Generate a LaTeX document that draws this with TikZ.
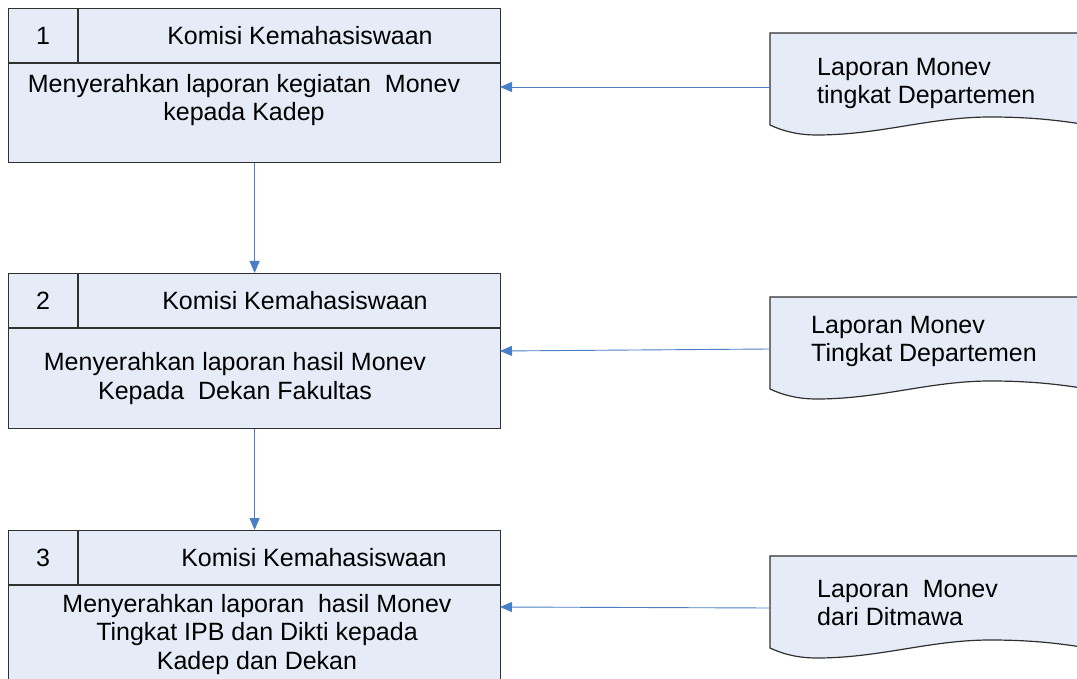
\documentclass[tikz,border=0pt]{standalone}
\usepackage{fontspec}
\setmainfont{Liberation Sans}
\usetikzlibrary{arrows.meta}
\definecolor{boxfill}{HTML}{E6ECF7}
\definecolor{linkblue}{HTML}{4A7EC5}
\definecolor{edge}{HTML}{303030}
\begin{document}
\begin{tikzpicture}[x=1pt,y=-1pt,
  font=\fontsize{25}{28.5}\selectfont,
  box/.style={draw=edge, fill=boxfill, line width=1.2pt, inner sep=0pt,
    anchor=north west, minimum width=492pt},
  divider/.style={draw=edge, line width=1.2pt},
  txt/.style={inner sep=0pt, align=center},
  doctxt/.style={inner sep=0pt, align=left, anchor=west},
  flow/.style={draw=linkblue, line width=0.9pt, -{Triangle[length=12pt,width=10pt]}},
  docshape/.pic={
    \path[draw=edge, fill=boxfill, line width=1.2pt]
      (0,0) -- (330,0) -- (330,94)
      .. controls (295,88) and (265,84) .. (220,84)
      .. controls (160,84) and (110,102) .. (47,102)
      .. controls (30,102) and (15,99) .. (0,92) -- cycle;
  }]
\path[use as bounding box, clip] (0,0) rectangle (1077,679);

% process boxes
\node[box, minimum height=154pt] (b1) at (8,8) {};
\node[box, minimum height=155pt] (b2) at (8,273) {};
\node[box, minimum height=180pt] (b3) at (8,530) {};

\foreach \b in {b1,b2,b3}{
  \draw[divider] ([yshift=-55pt]\b.north west) -- ([yshift=-55pt]\b.north east);
  \draw[divider] ([xshift=70pt]\b.north west) -- ([xshift=70pt,yshift=-55pt]\b.north west);
}

% box 1
\node[txt] (n1) at (43,36) {1};
\node[txt] (h1) at (300,36) {Komisi Kemahasiswaan};
\node[txt] (t1) at (244,100) {Menyerahkan laporan kegiatan\ \ Monev\\kepada Kadep};

% box 2
\node[txt] (n2) at (43,301) {2};
\node[txt] (h2) at (295,301) {Komisi Kemahasiswaan};
\node[txt] (t2) at (235,378.5) {Menyerahkan laporan hasil Monev\\Kepada\ \ Dekan Fakultas};

% box 3
\node[txt] (n3) at (43,558) {3};
\node[txt] (h3) at (314,558) {Komisi Kemahasiswaan};
\node[txt] (t3) at (257,634.5) {Menyerahkan laporan\ \ hasil Monev\\Tingkat IPB dan Dikti kepada\\Kadep dan Dekan};

% report documents
\pic at (770,33) {docshape};
\pic at (770,297) {docshape};
\pic at (770,556) {docshape};
\node[doctxt] (r1) at (817,83.5) {Laporan Monev\\tingkat Departemen};
\node[doctxt] (r2) at (811,341.5) {Laporan Monev\\Tingkat Departemen};
\node[doctxt] (r3) at (817,603) {Laporan\ \ Monev\\dari Ditmawa};

\coordinate (d1) at (770,87);
\coordinate (d2) at (770,349);
\coordinate (d3) at (770,608);
\coordinate (e1) at (500,87);
\coordinate (e2) at (500,351);
\coordinate (e3) at (500,607);

% connectors
\draw[flow] (b1.south) -- (b2.north);
\draw[flow] (b2.south) -- (b3.north);
\draw[flow] (d1) -- (e1);
\draw[flow] (d2) -- (e2);
\draw[flow] (d3) -- (e3);
\end{tikzpicture}
\end{document}
